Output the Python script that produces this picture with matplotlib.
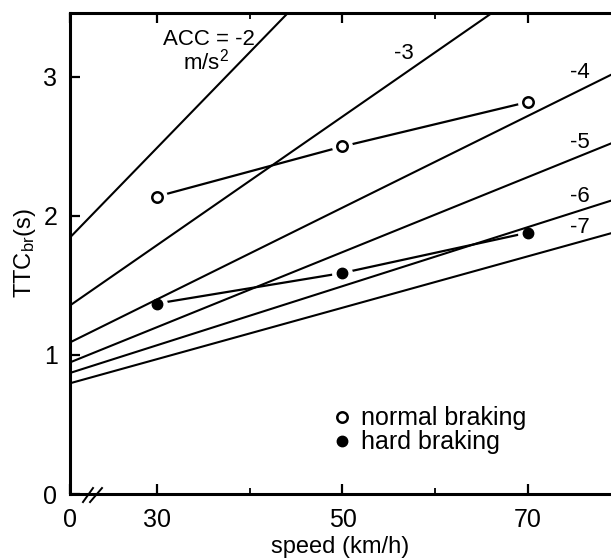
import numpy as np
import matplotlib
matplotlib.use("Agg")
import matplotlib.pyplot as plt
from matplotlib.lines import Line2D

plt.rcParams['font.family'] = ['Liberation Sans', 'DejaVu Sans']
plt.rcParams['mathtext.fontset'] = 'custom'
plt.rcParams['mathtext.rm'] = 'Liberation Sans'
plt.rcParams['mathtext.it'] = 'Liberation Sans'

acc = [-2, -3, -4, -5, -6, -7]
ttc_at_30 = [2.49, 1.79, 1.40, 1.20, 1.07, 0.97]
ttc_at_70 = [5.24, 3.64, 2.72, 2.28, 1.92, 1.71]

# measured points
speed = [30, 50, 70]
ttc_normal = [2.14, 2.50, 2.82]
ttc_hard = [1.37, 1.59, 1.88]

x_break = 20.62   # where the broken axis starts ("0")

fig = plt.figure(figsize=(6.11, 5.6), dpi=100)
ax = fig.add_axes([70/611, 66/560, 541/611, 481/560])
ax.set_xlim(x_break, 78.95)
ax.set_ylim(0, 3.46)

# connecting lines + white gaps round markers
ax.plot(speed, ttc_normal, color='k', lw=1.6, zorder=1)
ax.plot(speed, ttc_hard, color='k', lw=1.6, zorder=1)
ax.plot(speed, ttc_normal, ls='none', marker='o', ms=14, mfc='white', mec='white', zorder=2)
ax.plot(speed, ttc_hard, ls='none', marker='o', ms=14, mfc='white', mec='white', zorder=2)

for a, y1, y2 in zip(acc, ttc_at_30, ttc_at_70):
    ax.axline((30, y1), (70, y2), color='k', lw=1.5, zorder=3)

ax.plot(speed, ttc_normal, ls='none', marker='o', ms=7.5, mfc='white', mec='k', mew=1.8, zorder=4)
ax.plot(speed, ttc_hard, ls='none', marker='o', ms=7.5, mfc='k', mec='k', zorder=4)

# line labels
ax.text(35.6, 3.27, 'ACC = -2', fontsize=16, ha='center', va='center')
ax.text(35.3, 3.11, 'm/s$^2$', fontsize=16, ha='center', va='center')
lab_x = [56.6, 75.6, 75.6, 75.6, 75.6]
lab_y = [3.17, 3.03, 2.525, 2.14, 1.92]
for a, lx, ly in zip(acc[1:], lab_x, lab_y):
    ax.text(lx, ly, str(a), fontsize=16, ha='center', va='center')

# axis break marks
ax.plot([22.02, 23.10], [-0.058, 0.043], color='k', lw=1.4, clip_on=False)
ax.plot([22.78, 24.07], [-0.058, 0.043], color='k', lw=1.4, clip_on=False)

# legend
h1 = Line2D([], [], ls='none', marker='o', ms=7.5, mfc='white', mec='k', mew=1.8)
h2 = Line2D([], [], ls='none', marker='o', ms=7.5, mfc='k', mec='k')
ax.legend([h1, h2], ['normal braking', 'hard braking'], fontsize=18, frameon=False,
          loc='upper left', bbox_to_anchor=(0.485, 0.182), borderaxespad=0, borderpad=0,
          handlelength=0.8, handletextpad=0.35, labelspacing=0.0)

ax.set_xticks([x_break, 30, 50, 70], ['0', '30', '50', '70'])
ax.set_xticks([40, 60], minor=True)
ax.set_yticks([0, 1, 2, 3])
ax.tick_params(direction='in', top=True, right=False, length=7, width=1.6, labelsize=18)
ax.tick_params(axis='x', pad=10)
ax.tick_params(axis='y', pad=9)
ax.tick_params(which='minor', direction='in', top=True, length=4, width=1.3)
ax.spines['right'].set_visible(False)
for s in ['left', 'bottom', 'top']:
    ax.spines[s].set_linewidth(2.2)

ax.set_xlabel('speed (km/h)', fontsize=17)
ax.xaxis.set_label_coords(0.499, -0.088)
ax.set_ylabel('TTC$_{\\rm br}$(s)', fontsize=17, labelpad=4)

fig.savefig('out.png', dpi=100)
